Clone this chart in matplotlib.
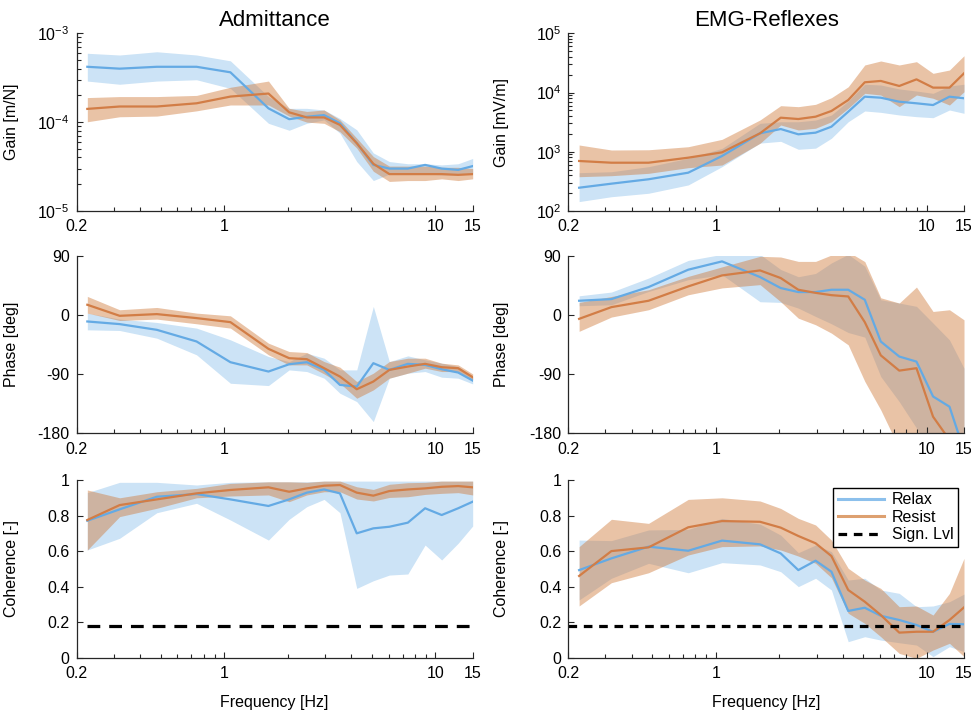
import numpy as np
import matplotlib.pyplot as plt
from matplotlib.lines import Line2D
from matplotlib.ticker import FixedLocator, NullFormatter, LogLocator

plt.rcParams['font.family'] = ['Liberation Sans', 'DejaVu Sans']
plt.rcParams['axes.unicode_minus'] = False
plt.rcParams['mathtext.fontset'] = 'custom'
plt.rcParams['mathtext.rm'] = 'Liberation Sans'

# frequencies of the multisine [Hz]
freq = np.array([0.225, 0.32, 0.48, 0.74, 1.07, 1.62, 2.03, 2.46, 2.97, 3.53,
                 4.24, 5.08, 6.05, 7.4, 8.93, 10.7, 12.8, 15.0])

# Admittance - gain [m/N]
adm_gain_relax = [4.2e-4, 4.0e-4, 4.2e-4, 4.2e-4, 3.64e-4, 1.43e-4, 1.08e-4, 1.15e-4, 1.2e-4,
                  9.7e-5, 5.8e-5, 3.3e-5, 3.0e-5, 3.0e-5, 3.3e-5, 3.0e-5, 2.9e-5, 3.2e-5]
adm_gain_relax_hi = [5.96e-4, 5.7e-4, 6.2e-4, 5.7e-4, 4.9e-4, 1.94e-4, 1.43e-4, 1.43e-4, 1.37e-4,
                     1.1e-4, 8.2e-5, 4.5e-5, 3.6e-5, 3.4e-5, 3.4e-5, 3.3e-5, 3.4e-5, 3.9e-5]
adm_gain_relax_lo = [2.9e-4, 2.67e-4, 2.9e-4, 3.0e-4, 2.4e-4, 9.7e-5, 8.1e-5, 9.7e-5, 1.06e-4,
                     7.5e-5, 3.6e-5, 2.2e-5, 2.6e-5, 2.6e-5, 2.6e-5, 2.55e-5, 2.55e-5, 2.6e-5]
adm_gain_resist = [1.41e-4, 1.5e-4, 1.5e-4, 1.63e-4, 1.94e-4, 2.1e-4, 1.29e-4, 1.13e-4, 1.13e-4,
                   9.3e-5, 5.8e-5, 3.4e-5, 2.6e-5, 2.6e-5, 2.6e-5, 2.6e-5, 2.55e-5, 2.6e-5]
adm_gain_resist_hi = [1.89e-4, 1.94e-4, 1.94e-4, 2.0e-4, 2.47e-4, 2.9e-4, 1.43e-4, 1.32e-4, 1.37e-4,
                      1.06e-4, 6.6e-5, 4.1e-5, 3.2e-5, 3.2e-5, 3.2e-5, 3.1e-5, 3.1e-5, 3.0e-5]
adm_gain_resist_lo = [1.01e-4, 1.15e-4, 1.17e-4, 1.34e-4, 1.56e-4, 1.56e-4, 1.17e-4, 1.0e-4, 9.7e-5,
                      7.8e-5, 5.1e-5, 2.8e-5, 2.15e-5, 2.2e-5, 2.2e-5, 2.3e-5, 2.2e-5, 2.3e-5]

# Admittance - phase [deg]
adm_phase_relax = [-10, -14, -22.7, -40.4, -71.9, -86.1, -75, -71.9, -83.6, -106.4,
                   -109, -73.4, -83.6, -74.4, -76, -82.6, -87.6, -99.8]
adm_phase_relax_hi = [2.7, -6.4, -11.5, -20.1, -37.9, -63.3, -71, -58.2, -65.8, -83.6,
                      -83.6, 12.9, -71, -62.3, -68.3, -73.4, -78.5, -93.7]
adm_phase_relax_lo = [-22.7, -23.7, -35.4, -60.7, -103.9, -107.4, -83.6, -86.1, -96.2, -119.1,
                      -131.8, -162.2, -96.2, -88.6, -86.1, -94.7, -96.2, -104.9]
adm_phase_resist = [15.4, -1.4, 1.2, -4.9, -11, -51.6, -65.8, -67.3, -81, -93.7,
                    -113, -101.3, -83.6, -78.5, -74.4, -79.5, -81, -94.7]
adm_phase_resist_hi = [28.1, 7.8, 11.3, 2.7, -1.4, -43, -55.7, -57.2, -70.9, -79.5,
                       -101.3, -88.6, -70.9, -65.8, -65.8, -73.4, -76, -89.7]
adm_phase_resist_lo = [2.7, -8.5, -6.4, -13.5, -20.1, -60.7, -76, -76, -89.7, -103.9,
                       -126.7, -114, -96.2, -88.6, -81, -86.1, -86.1, -98.8]

# Admittance - coherence [-]
adm_coh_relax = [0.771, 0.835, 0.906, 0.921, 0.891, 0.854, 0.891, 0.929, 0.947, 0.925,
                 0.70, 0.728, 0.737, 0.76, 0.841, 0.803, 0.841, 0.878]
adm_coh_relax_hi = [0.929, 0.987, 0.987, 0.972, 0.987, 0.99, 0.99, 0.99, 0.994, 0.994,
                    0.994, 0.994, 0.994, 0.994, 0.994, 0.994, 0.994, 0.994]
adm_coh_relax_lo = [0.606, 0.672, 0.816, 0.869, 0.775, 0.662, 0.779, 0.85, 0.891, 0.816,
                    0.39, 0.433, 0.465, 0.471, 0.634, 0.55, 0.644, 0.741]
adm_coh_resist = [0.775, 0.859, 0.891, 0.925, 0.944, 0.959, 0.934, 0.953, 0.968, 0.972,
                  0.929, 0.912, 0.938, 0.947, 0.953, 0.962, 0.966, 0.959]
adm_coh_resist_hi = [0.944, 0.9, 0.934, 0.953, 0.981, 0.99, 0.99, 0.987, 0.994, 0.994,
                     0.962, 0.947, 0.976, 0.985, 0.987, 0.994, 0.994, 0.994]
adm_coh_resist_lo = [0.606, 0.794, 0.841, 0.9, 0.91, 0.916, 0.878, 0.916, 0.934, 0.934,
                     0.893, 0.882, 0.902, 0.906, 0.919, 0.925, 0.929, 0.916]

# EMG-Reflexes - gain [mV/m]
emg_gain_relax = [247, 289, 343, 443, 847, 2050, 2420, 1970, 2100, 2650,
                  4740, 8510, 8180, 7000, 6580, 6150, 8510, 8000]
emg_gain_relax_hi = [443, 460, 560, 775, 1140, 3020, 3210, 3210, 3430, 4170,
                     7190, 13800, 13400, 11500, 10600, 9700, 12900, 13800]
emg_gain_relax_lo = [144, 174, 199, 275, 560, 1400, 1500, 1100, 1150, 1690,
                     3210, 4880, 4630, 4180, 3910, 3760, 5070, 4460]
emg_gain_resist = [698, 653, 653, 794, 977, 2050, 3760, 3570, 3910, 4880,
                   7480, 14900, 15700, 12900, 16700, 12100, 12100, 21100]
emg_gain_resist_hi = [1300, 1070, 1080, 1216, 1620, 3440, 6000, 5770, 6320, 8180,
                      12500, 29200, 34100, 29200, 33200, 21100, 24000, 41900]
emg_gain_resist_lo = [379, 394, 432, 538, 597, 1390, 2830, 2330, 2490, 3210,
                      5420, 9700, 9080, 5770, 9080, 8000, 6150, 10300]

# EMG-Reflexes - phase [deg]
emg_phase_relax = [21.5, 24, 42.3, 68.7, 81.3, 57.5, 40.8, 34.7, 34.7, 38.2,
                   38.2, 23, -40.5, -63.3, -71, -124, -139.5, -206]
emg_phase_relax_hi = [29, 34.7, 56, 82.8, 92, 92, 69, 58, 63, 79,
                      92, 74, 23, 18, 13, -12.5, -38, -81]
emg_phase_relax_lo = [13.9, 15.4, 35.6, 53.5, 61, 20, 19, 10.3, -2.4, -13.5,
                      -26.8, -33.8, -93.8, -131.9, -172, -210, -240, -260]
emg_phase_resist = [-6, 11.8, 21.5, 43.3, 60, 67.6, 56, 38.2, 33.5, 30,
                    28, -11, -61.5, -84.7, -81, -154.7, -190, -215]
emg_phase_resist_hi = [18.9, 28, 38.2, 58.5, 73, 89, 88, 81.3, 81.3, 91,
                       96, 81, 26, 18, 42.3, 5.2, 7.8, -7.5]
emg_phase_resist_lo = [-25, -3.3, 7.8, 30.6, 41, 46, 20, -5, -15, -27.7,
                       -45.5, -101, -144.5, -203, -230, -250, -260, -270]

# EMG-Reflexes - coherence [-]
emg_coh_relax = [0.493, 0.559, 0.625, 0.602, 0.659, 0.638, 0.587, 0.493, 0.546, 0.484,
                 0.263, 0.281, 0.236, 0.212, 0.184, 0.146, 0.19, 0.188]
emg_coh_relax_hi = [0.662, 0.659, 0.719, 0.722, 0.784, 0.752, 0.69, 0.591, 0.634, 0.597,
                    0.437, 0.447, 0.381, 0.362, 0.287, 0.291, 0.315, 0.358]
emg_coh_relax_lo = [0.325, 0.447, 0.531, 0.478, 0.535, 0.522, 0.484, 0.4, 0.447, 0.381,
                    0.09, 0.118, 0.099, 0.084, 0.071, 0.006, 0.062, 0.034]
emg_coh_resist = [0.46, 0.6, 0.621, 0.734, 0.769, 0.765, 0.732, 0.685, 0.644, 0.572,
                  0.381, 0.315, 0.24, 0.141, 0.146, 0.146, 0.212, 0.283]
emg_coh_resist_hi = [0.625, 0.779, 0.756, 0.891, 0.9, 0.882, 0.84, 0.784, 0.747, 0.662,
                     0.503, 0.437, 0.39, 0.287, 0.291, 0.24, 0.362, 0.559]
emg_coh_resist_lo = [0.291, 0.422, 0.478, 0.578, 0.625, 0.629, 0.606, 0.572, 0.531, 0.45,
                     0.25, 0.193, 0.118, 0.024, -0.004, 0.043, 0.081, 0.006]

sign_lvl = 0.18

c_relax = '#64AAE4'
c_resist = '#D27D46'
c_relax_leg = '#8CC0EC'
c_resist_leg = '#DDA070'
fs = 11.5

fig = plt.figure(figsize=(9.71, 7.12), dpi=100)

col_x = [0.0788, 0.5853]
col_w = [0.408, 0.4075]
row_y = [0.7037, 0.3914, 0.0763]
row_h = 0.2495


def style(ax):
    ax.set_xscale('log')
    ax.set_xlim(0.2, 15)
    ax.spines['top'].set_visible(False)
    ax.spines['right'].set_visible(False)
    for s in ['left', 'bottom']:
        ax.spines[s].set_color('#262626')
        ax.spines[s].set_linewidth(0.9)
    ax.xaxis.set_major_locator(FixedLocator([0.2, 1, 10, 15]))
    ax.xaxis.set_major_formatter(plt.FuncFormatter(lambda v, p: '%g' % v))
    ax.xaxis.set_minor_locator(LogLocator(base=10, subs=np.arange(2, 10)))
    ax.xaxis.set_minor_formatter(NullFormatter())
    ax.tick_params(which='both', direction='in', colors='#262626', labelcolor='black', labelsize=fs)
    ax.tick_params(which='major', length=4, width=0.8)
    ax.tick_params(which='minor', length=3, width=0.8)
    ax.tick_params(axis='x', which='major', pad=6)
    ax.tick_params(axis='y', which='major', pad=5)
    ax.patch.set_alpha(0)


def draw(ax, relax, relax_hi, relax_lo, resist, resist_hi, resist_lo):
    ax.fill_between(freq, relax_lo, relax_hi, color=c_relax, alpha=0.33, lw=0)
    ax.plot(freq, relax, color=c_relax, lw=1.6)
    ax.fill_between(freq, resist_lo, resist_hi, color='#D07A3A', alpha=0.45, lw=0)
    ax.plot(freq, resist, color=c_resist, lw=1.6)


axes = [[fig.add_axes([col_x[c], row_y[r], col_w[c], row_h]) for c in range(2)] for r in range(3)]

# gain row
ax = axes[0][0]
draw(ax, adm_gain_relax, adm_gain_relax_hi, adm_gain_relax_lo,
     adm_gain_resist, adm_gain_resist_hi, adm_gain_resist_lo)
ax.set_yscale('log')
ax.set_ylim(1e-5, 1e-3)
ax.set_ylabel('Gain [m/N]', fontsize=fs)
ax.set_title('Admittance', fontsize=16, pad=5)

ax = axes[0][1]
draw(ax, emg_gain_relax, emg_gain_relax_hi, emg_gain_relax_lo,
     emg_gain_resist, emg_gain_resist_hi, emg_gain_resist_lo)
ax.set_yscale('log')
ax.set_ylim(1e2, 1e5)
ax.set_ylabel('Gain [mV/m]', fontsize=fs)
ax.set_title('EMG-Reflexes', fontsize=16, pad=5)

# phase row
ax = axes[1][0]
draw(ax, adm_phase_relax, adm_phase_relax_hi, adm_phase_relax_lo,
     adm_phase_resist, adm_phase_resist_hi, adm_phase_resist_lo)
ax.set_ylabel('Phase [deg]', fontsize=fs)

ax = axes[1][1]
draw(ax, emg_phase_relax, emg_phase_relax_hi, emg_phase_relax_lo,
     emg_phase_resist, emg_phase_resist_hi, emg_phase_resist_lo)
ax.set_ylabel('Phase [deg]', fontsize=fs)

for ax in axes[1]:
    ax.set_ylim(-180, 90)
    ax.set_yticks([-180, -90, 0, 90])

# coherence row
ax = axes[2][0]
draw(ax, adm_coh_relax, adm_coh_relax_hi, adm_coh_relax_lo,
     adm_coh_resist, adm_coh_resist_hi, adm_coh_resist_lo)
ax.plot([freq[0], freq[-1]], [sign_lvl, sign_lvl], color='black', lw=2.3, dashes=(4, 2.8))

ax = axes[2][1]
draw(ax, emg_coh_relax, emg_coh_relax_hi, emg_coh_relax_lo,
     emg_coh_resist, emg_coh_resist_hi, emg_coh_resist_lo)
ax.plot([0.2, 15], [sign_lvl, sign_lvl], color='black', lw=2.3, dashes=(2.7, 2.1))

handles = [Line2D([], [], color=c_relax_leg, lw=2.2),
           Line2D([], [], color=c_resist_leg, lw=2.2),
           Line2D([], [], color='black', lw=2.3, dashes=(2.7, 2.1))]
leg = ax.legend(handles, ['Relax', 'Resist', 'Sign. Lvl'], loc='upper right',
                bbox_to_anchor=(0.986, 0.957), borderaxespad=0, fancybox=False,
                edgecolor='black', framealpha=1, fontsize=fs, handlelength=2.9,
                labelspacing=0.15, borderpad=0.3, handletextpad=0.5)
leg.get_frame().set_linewidth(1.0)

for ax in axes[2]:
    ax.set_ylim(0, 1)
    ax.set_yticks([0, 0.2, 0.4, 0.6, 0.8, 1])
    ax.set_yticklabels(['0', '0.2', '0.4', '0.6', '0.8', '1'])
    ax.set_ylabel('Coherence [-]', fontsize=fs)
    ax.set_xlabel('Frequency [Hz]', fontsize=fs)
    ax.xaxis.set_label_coords(0.5, -0.21)

for r in range(3):
    style(axes[r][0])
    style(axes[r][1])
    axes[r][0].yaxis.set_label_coords(-0.145, 0.5)
    axes[r][1].yaxis.set_label_coords(-0.15, 0.5)

fig.savefig('out.png', dpi=100)
